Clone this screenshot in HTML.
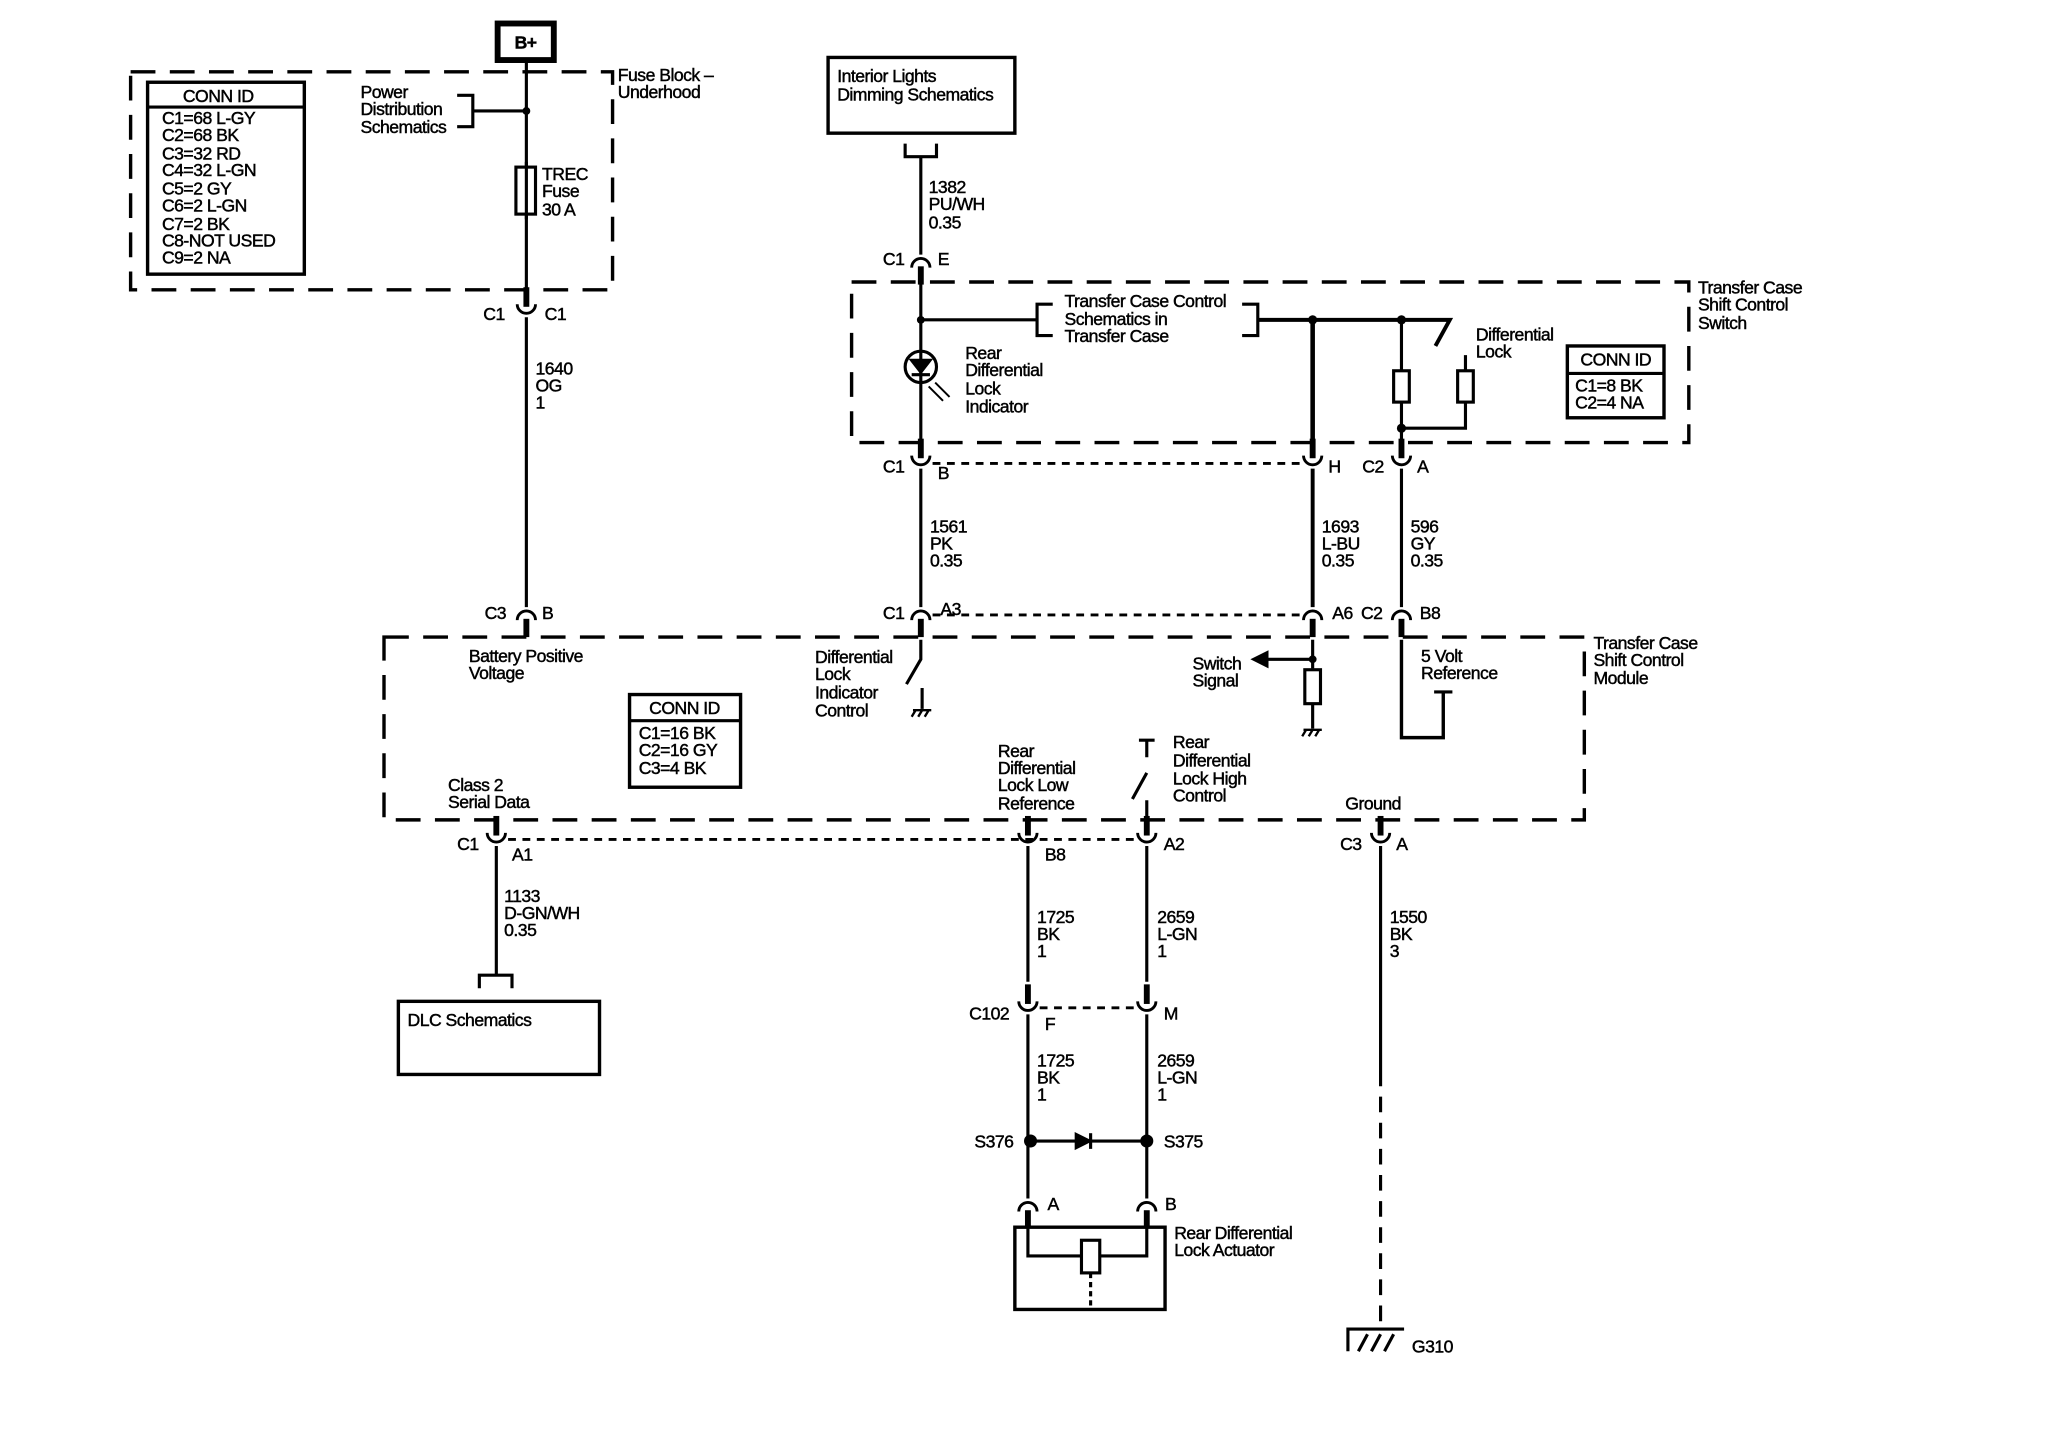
<!DOCTYPE html>
<html><head><meta charset="utf-8"><style>
html,body{margin:0;padding:0;background:#fff;}
svg{display:block;}
text{font-family:"Liberation Sans",sans-serif;font-size:13.5px;fill:#000;stroke:#000;stroke-width:0.35px;letter-spacing:-0.4px;}
</style></head><body>
<svg width="2048" height="1440" viewBox="0 0 1568 1103" preserveAspectRatio="none" xmlns="http://www.w3.org/2000/svg">
<defs>
<g id="cap"><path d="M-7,5 A7,7 0 0 1 7,5" fill="none" stroke="#000" stroke-width="2.2"/><line x1="0" y1="4" x2="0" y2="18" stroke="#000" stroke-width="4.5"/></g>
<g id="cup"><path d="M-7,-5 A7,7 0 0 0 7,-5" fill="none" stroke="#000" stroke-width="2.2"/><line x1="0" y1="-18" x2="0" y2="-3" stroke="#000" stroke-width="4.5"/></g>
</defs>
<g fill="none" stroke="#000" stroke-width="2.4">
<g stroke-dasharray="19,11" stroke-width="2.6">
<rect x="100" y="55" width="369" height="167"/>
<rect x="652" y="216" width="641" height="123"/>
<rect x="294" y="488" width="919" height="140"/>
</g>
<rect x="381" y="18" width="43" height="28" stroke-width="4.5"/>
<line x1="403" y1="47" x2="403" y2="222"/>
<rect x="113" y="63" width="120" height="147" stroke-width="2.6"/>
<line x1="113" y1="82" x2="233" y2="82"/>
<path d="M350,73 H362 V97 H350 M362,85 H403"/>
<rect x="395" y="128" width="15" height="36" fill="#fff"/>
<line x1="403" y1="124" x2="403" y2="168"/>
<line x1="403" y1="243" x2="403" y2="465"/>
<rect x="634" y="44" width="143" height="58" stroke-width="2.6"/>
<path d="M693,110 V120 H717 V110"/>
<line x1="705" y1="120" x2="705" y2="195"/>
<line x1="705" y1="209" x2="705" y2="338"/>
<line x1="705" y1="245" x2="794" y2="245"/>
<path d="M806,233 H794 V257 H806"/>
<path d="M951,233 H963 V257 H951"/>
<path d="M963,245 H1110 L1099,265" stroke-width="3"/>
<line x1="1005" y1="245" x2="1005" y2="338" stroke-width="3.5"/>
<line x1="1073" y1="245" x2="1073" y2="338"/>
<rect x="1067" y="284" width="12" height="24" fill="#fff"/>
<path d="M1122,272 V328 H1073"/>
<rect x="1116" y="284" width="12" height="24" fill="#fff"/>
<rect x="1200" y="265" width="74" height="55" stroke-width="2.6"/>
<line x1="1200" y1="286" x2="1274" y2="286"/>
<circle cx="705" cy="281" r="12"/>
<path d="M698,276 H712 L705,285 Z" fill="#000"/>
<line x1="698" y1="287" x2="712" y2="287"/>
<path d="M711,296 L722,307 M716,293 L727,304" stroke-width="1.5"/>
<line x1="705" y1="359" x2="705" y2="465"/>
<line x1="1005" y1="359" x2="1005" y2="465" stroke-width="3"/>
<line x1="1073" y1="359" x2="1073" y2="465"/>
<g stroke-dasharray="6,5" stroke-width="2.2">
<line x1="714" y1="355" x2="997" y2="355"/>
<line x1="714" y1="471" x2="997" y2="471"/>
<line x1="389" y1="643" x2="871" y2="643"/>
<line x1="796" y1="772" x2="871" y2="772"/>
</g>
<path d="M705,490 V505 L694,524"/>
<path d="M706,527 V543"/>
<path d="M699,544 H713 M701,544 L698,549 M706,544 L703,549 M711,544 L708,549" stroke-width="1.8"/>
<line x1="1005" y1="490" x2="1005" y2="512"/>
<line x1="1005" y1="505" x2="968" y2="505"/>
<path d="M960,505 L970,500 L970,510 Z" fill="#000"/>
<rect x="999" y="513" width="12" height="26" fill="#fff"/>
<line x1="1005" y1="539" x2="1005" y2="558"/>
<path d="M998,559 H1012 M1000,559 L997,564 M1005,559 L1002,564 M1010,559 L1007,564" stroke-width="1.8"/>
<path d="M1073,490 V565 H1105 V530" stroke-width="2.6"/>
<line x1="1098" y1="530" x2="1112" y2="530"/>
<rect x="482" y="532" width="85" height="71" stroke-width="2.6"/>
<line x1="482" y1="552" x2="567" y2="552"/>
<path d="M872,567 H884 M878,567 V580 M867,612 L878,592 M878,613 V625"/>
<line x1="380" y1="648" x2="380" y2="747"/>
<path d="M367,757 V747 H392 V757"/>
<rect x="305" y="767" width="154" height="56" stroke-width="2.6"/>
<line x1="787" y1="648" x2="787" y2="752"/>
<line x1="878" y1="648" x2="878" y2="752"/>
<line x1="787" y1="777" x2="787" y2="918"/>
<line x1="878" y1="777" x2="878" y2="918"/>
<line x1="1057" y1="648" x2="1057" y2="820"/>
<line x1="1057" y1="820" x2="1057" y2="1018" stroke-dasharray="12,8"/>
<line x1="789" y1="874" x2="878" y2="874"/>
<path d="M824,869 L834,874 L824,879 Z" fill="#000"/>
<line x1="835" y1="868" x2="835" y2="880"/>
<rect x="777" y="940" width="115" height="63" stroke-width="2.6"/>
<path d="M787,940 V962 H878 V940"/>
<rect x="828" y="950" width="14" height="25" fill="#fff"/>
<line x1="835" y1="975" x2="835" y2="1003" stroke-dasharray="4,3"/>
<path d="M1032,1035 V1018 H1075 M1040,1035 L1047,1022 M1050,1035 L1057,1022 M1060,1035 L1067,1022" stroke-width="2.4"/>
</g>
<g fill="#000">
<circle cx="403" cy="85" r="3"/>
<circle cx="705" cy="245" r="3"/>
<circle cx="1005" cy="245" r="3.5"/>
<circle cx="1073" cy="245" r="3.5"/>
<circle cx="1073" cy="328" r="3.5"/>
<circle cx="1005" cy="505" r="3"/>
<circle cx="789" cy="874" r="5"/>
<circle cx="878" cy="874" r="5"/>
</g>
<use href="#cup" x="403" y="238"/>
<use href="#cap" x="705" y="200"/>
<use href="#cup" x="705" y="354"/>
<use href="#cup" x="1005" y="354"/>
<use href="#cup" x="1073" y="354"/>
<use href="#cap" x="403" y="470"/>
<use href="#cap" x="705" y="470"/>
<use href="#cap" x="1005" y="470"/>
<use href="#cap" x="1073" y="470"/>
<use href="#cup" x="380" y="643"/>
<use href="#cup" x="787" y="643"/>
<use href="#cup" x="878" y="643"/>
<use href="#cup" x="1057" y="643"/>
<use href="#cup" x="787" y="772"/>
<use href="#cup" x="878" y="772"/>
<use href="#cap" x="787" y="923"/>
<use href="#cap" x="878" y="923"/>
<text x="394" y="37" style="font-weight:bold">B+</text>
<text x="473" y="62">Fuse Block –</text><text x="473" y="75">Underhood</text>
<text x="140" y="78">CONN ID</text>
<text x="124" y="95">C1=68 L-GY</text><text x="124" y="108">C2=68 BK</text><text x="124" y="122">C3=32 RD</text><text x="124" y="135">C4=32 L-GN</text><text x="124" y="149">C5=2 GY</text><text x="124" y="162">C6=2 L-GN</text><text x="124" y="176">C7=2 BK</text><text x="124" y="189">C8-NOT USED</text><text x="124" y="202">C9=2 NA</text>
<text x="276" y="75">Power</text><text x="276" y="88">Distribution</text><text x="276" y="102">Schematics</text>
<text x="415" y="138">TREC</text><text x="415" y="151">Fuse</text><text x="415" y="165">30 A</text>
<text x="370" y="245">C1</text><text x="417" y="245">C1</text>
<text x="410" y="287">1640</text><text x="410" y="300">OG</text><text x="410" y="313">1</text>
<text x="641" y="63">Interior Lights</text><text x="641" y="77">Dimming Schematics</text>
<text x="711" y="148">1382</text><text x="711" y="161">PU/WH</text><text x="711" y="175">0.35</text>
<text x="676" y="203">C1</text><text x="718" y="203">E</text>
<text x="815" y="235">Transfer Case Control</text><text x="815" y="249">Schematics in</text><text x="815" y="262">Transfer Case</text>
<text x="1300" y="225">Transfer Case</text><text x="1300" y="238">Shift Control</text><text x="1300" y="252">Switch</text>
<text x="1130" y="261">Differential</text><text x="1130" y="274">Lock</text>
<text x="1210" y="280">CONN ID</text><text x="1206" y="300">C1=8 BK</text><text x="1206" y="313">C2=4 NA</text>
<text x="739" y="275">Rear</text><text x="739" y="288">Differential</text><text x="739" y="302">Lock</text><text x="739" y="316">Indicator</text>
<text x="676" y="362">C1</text><text x="718" y="367">B</text><text x="1017" y="362">H</text><text x="1043" y="362">C2</text><text x="1085" y="362">A</text>
<text x="712" y="408">1561</text><text x="712" y="421">PK</text><text x="712" y="434">0.35</text>
<text x="1012" y="408">1693</text><text x="1012" y="421">L-BU</text><text x="1012" y="434">0.35</text>
<text x="1080" y="408">596</text><text x="1080" y="421">GY</text><text x="1080" y="434">0.35</text>
<text x="371" y="474">C3</text><text x="415" y="474">B</text>
<text x="676" y="474">C1</text><text x="720" y="471">A3</text>
<text x="1020" y="474">A6</text><text x="1042" y="474">C2</text><text x="1087" y="474">B8</text>
<text x="1220" y="497">Transfer Case</text><text x="1220" y="510">Shift Control</text><text x="1220" y="524">Module</text>
<text x="359" y="507">Battery Positive</text><text x="359" y="520">Voltage</text>
<text x="624" y="508">Differential</text><text x="624" y="521">Lock</text><text x="624" y="535">Indicator</text><text x="624" y="549">Control</text>
<text x="913" y="513">Switch</text><text x="913" y="526">Signal</text>
<text x="1088" y="507">5 Volt</text><text x="1088" y="520">Reference</text>
<text x="497" y="547">CONN ID</text><text x="489" y="566">C1=16 BK</text><text x="489" y="579">C2=16 GY</text><text x="489" y="593">C3=4 BK</text>
<text x="343" y="606">Class 2</text><text x="343" y="619">Serial Data</text>
<text x="764" y="580">Rear</text><text x="764" y="593">Differential</text><text x="764" y="606">Lock Low</text><text x="764" y="620">Reference</text>
<text x="898" y="573">Rear</text><text x="898" y="587">Differential</text><text x="898" y="601">Lock High</text><text x="898" y="614">Control</text>
<text x="1030" y="620">Ground</text>
<text x="350" y="651">C1</text><text x="392" y="659">A1</text>
<text x="800" y="659">B8</text><text x="891" y="651">A2</text>
<text x="1026" y="651">C3</text><text x="1069" y="651">A</text>
<text x="386" y="691">1133</text><text x="386" y="704">D-GN/WH</text><text x="386" y="717">0.35</text>
<text x="794" y="707">1725</text><text x="794" y="720">BK</text><text x="794" y="733">1</text>
<text x="886" y="707">2659</text><text x="886" y="720">L-GN</text><text x="886" y="733">1</text>
<text x="1064" y="707">1550</text><text x="1064" y="720">BK</text><text x="1064" y="733">3</text>
<text x="312" y="786">DLC Schematics</text>
<text x="742" y="781">C102</text><text x="800" y="789">F</text><text x="891" y="781">M</text>
<text x="794" y="817">1725</text><text x="794" y="830">BK</text><text x="794" y="843">1</text>
<text x="886" y="817">2659</text><text x="886" y="830">L-GN</text><text x="886" y="843">1</text>
<text x="746" y="879">S376</text><text x="891" y="879">S375</text>
<text x="802" y="927">A</text><text x="892" y="927">B</text>
<text x="899" y="949">Rear Differential</text><text x="899" y="962">Lock Actuator</text>
<text x="1081" y="1036">G310</text>
</svg>
</body></html>
